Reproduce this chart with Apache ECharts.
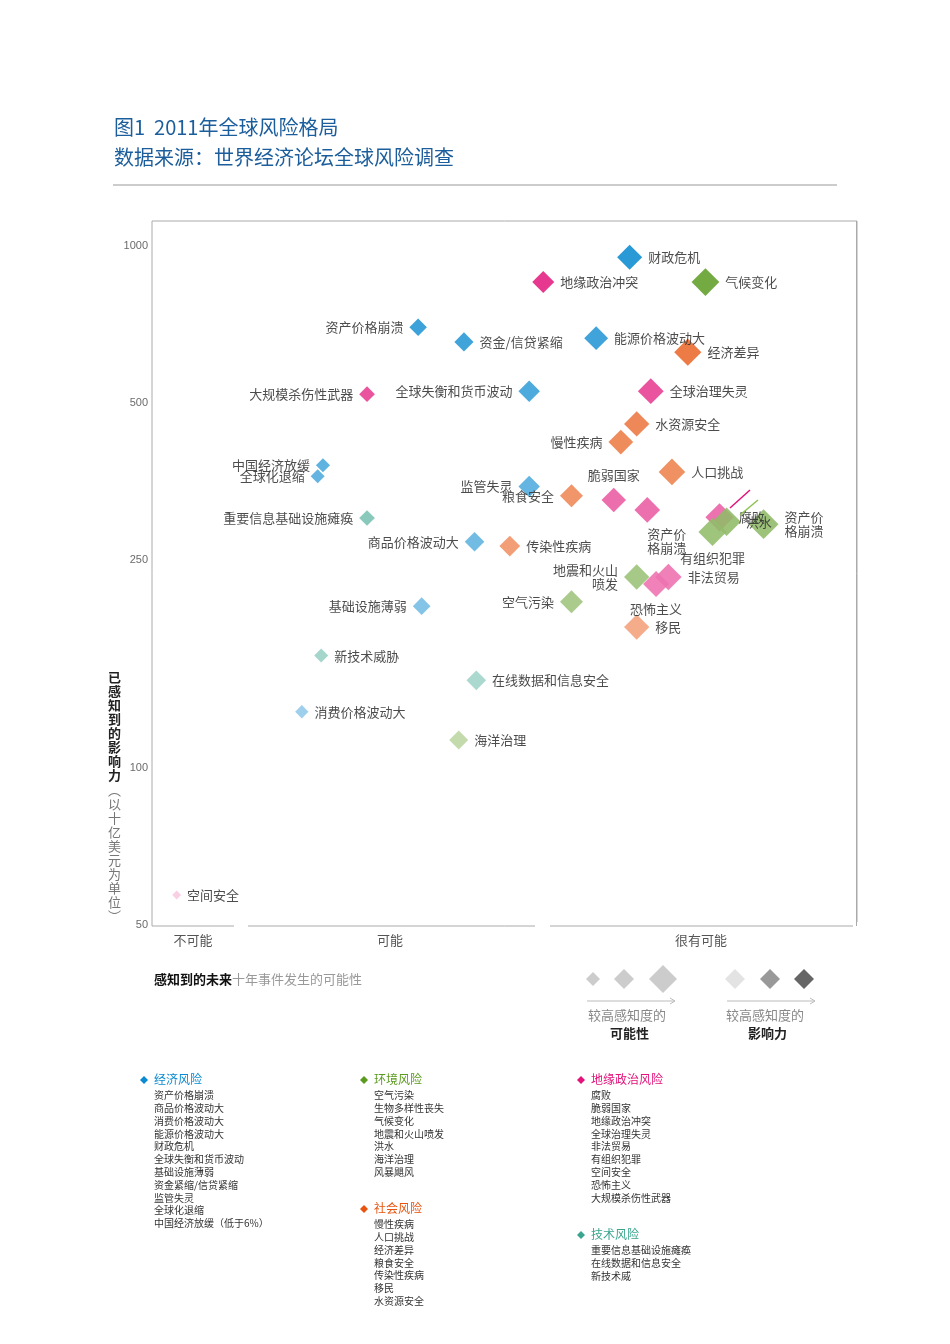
<!DOCTYPE html>
<html><head><meta charset="utf-8">
<script src="https://cdn.jsdelivr.net/npm/echarts@6/dist/echarts.min.js"></script>
<style>html,body{margin:0;background:#fff}#c{width:950px;height:1344px}</style>
</head><body><div id="c"></div>
<script>
const FONT='"Noto Sans CJK SC", sans-serif';
const names=['财政危机','资产价格崩溃','资金/信贷紧缩','能源价格波动大','全球失衡和货币波动','中国经济放缓','全球化退缩','监管失灵','商品价格波动大','基础设施薄弱','消费价格波动大',
'地缘政治冲突','大规模杀伤性武器','全球治理失灵','脆弱国家','资产价\n格崩溃','腐败','非法贸易','恐怖主义','空间安全',
'气候变化','资产价\n格崩溃','地震和火山\n喷发','空气污染','海洋治理','洪水','有组织犯罪',
'经济差异','水资源安全','慢性疾病','人口挑战','粮食安全','传染性疾病','移民',
'重要信息基础设施瘫痪','新技术威胁','在线数据和信息安全'];
const category=[0,0,0,0,0,0,0,0,0,0,0, 2,2,2,2,2,2,2,2,2, 1,1,1,1,1,1,1, 3,3,3,3,3,3,3, 4,4,4];
const likelihood=[3.71,2.51,2.77,3.52,3.14,1.97,1.94,3.14,2.83,2.53,1.85, 3.22,2.22,3.83,3.62,3.81,4.22,3.93,3.86,1.14, 4.14,4.47,3.75,3.38,2.74,4.26,4.18, 4.04,3.75,3.66,3.95,3.38,3.03,3.75, 2.22,1.96,2.84];
const impact=[952,699,655,666,527,380,362,346,271,204,128, 853,520,527,326,312,302,232,225,57, 853,293,232,208,113,296,283, 626,456,421,369,332,266,186, 301,164,147];
const labelPos=['r-14','l14','r10','r-14','l14','l-12','l10','l-14','l12','l10','r10',
'r12','l14','r11','t','b','cor','r10','ter','r',
'r12','r','l','l14','r12','flood','org',
'r15','r12','l14','r-14','l14','r','r12',
'l12','r10','r8'];
const yTicks=[50,100,250,500,1000];
const catNames=['经济风险','环境风险','地缘政治风险','社会风险','技术风险'];
const catColors=['#0a8ad0','#5a9a1e','#e2137a','#e8540e','#3aa58f'];
const catItems=[
['资产价格崩溃','商品价格波动大','消费价格波动大','能源价格波动大','财政危机','全球失衡和货币波动','基础设施薄弱','资金紧缩/信贷紧缩','监管失灵','全球化退缩','中国经济放缓（低于6%）'],
['空气污染','生物多样性丧失','气候变化','地震和火山喷发','洪水','海洋治理','风暴飓风'],
['腐败','脆弱国家','地缘政治冲突','全球治理失灵','非法贸易','有组织犯罪','空间安全','恐怖主义','大规模杀伤性武器'],
['慢性疾病','人口挑战','经济差异','粮食安全','传染性疾病','移民','水资源安全'],
['重要信息基础设施瘫痪','在线数据和信息安全','新技术威']];

function mix(hex,t){const n=parseInt(hex.slice(1),16);let r=n>>16,g=(n>>8)&255,b=n&255;
r=Math.round(r+(255-r)*t);g=Math.round(g+(255-g)*t);b=Math.round(b+(255-b)*t);return `rgb(${r},${g},${b})`;}
function lab(p){
 const base={show:true,color:'#333',fontSize:13,fontFamily:FONT,lineHeight:14,formatter:'{b}'};
 if(p==='t')return {...base,position:'top',distance:6};
 if(p==='b')return {...base,position:'bottom',distance:4,align:'left',offset:[-20,0]};
 if(p==='r')return {...base,position:'right',distance:6};
 if(p==='l')return {...base,position:'left',distance:6,align:'right'};
 if(p==='cor')return {...base,position:'right',offset:[20,-42]};
 if(p==='flood')return {...base,position:'right',offset:[16,-30]};
 if(p==='org')return {...base,position:'bottom',offset:[24,2]};
 if(p==='ter')return {...base,position:'bottom',offset:[34,-4]};
 const side=p[0]==='r'?'right':'left';const off=parseFloat(p.slice(1));
 return {...base,position:side,distance:6,offset:[0,off]};
}
const data=names.map((n,i)=>{
 const t=Math.max(0,Math.min(0.8,0.8*(3-Math.log10(impact[i]))/1.3));
 return {name:n,value:[likelihood[i],impact[i]],symbolSize:8+(likelihood[i]-1)*6.3,
  itemStyle:{color:mix(catColors[category[i]],t),opacity:0.88},label:lab(labelPos[i])};
});
const chart=echarts.init(document.getElementById('c'));
const gl=[];
const colX=[140,360,577,360,577],colY=[1073,1073,1073,1202,1228];
[0,1,2,3,4].forEach(k=>{
 gl.push({type:'polygon',shape:{points:[[colX[k]+4,colY[k]+3],[colX[k]+8,colY[k]+7],[colX[k]+4,colY[k]+11],[colX[k],colY[k]+7]]},style:{fill:catColors[k]}});
 gl.push({type:'text',x:colX[k]+14,y:colY[k],style:{text:catNames[k],fill:catColors[k],font:'12px '+FONT}});
 gl.push({type:'text',x:colX[k]+14,y:colY[k]+16,style:{text:catItems[k].join('\n'),fill:'#333',font:'10px '+FONT,lineHeight:12.8}});
});
function dia(cx,cy,r,c){return {type:'polygon',shape:{points:[[cx,cy-r],[cx+r,cy],[cx,cy+r],[cx-r,cy]]},style:{fill:c}};}
gl.push(dia(593,979,7,'#ccc'),dia(624,979,10,'#ccc'),dia(663,979,14,'#ccc'),dia(735,979,10,'#e3e3e3'),dia(770,979,10,'#999'),dia(804,979,10,'#666'));
[[587,675],[727,815]].forEach(([a,b])=>{gl.push({type:'line',shape:{x1:a,y1:1001,x2:b,y2:1001},style:{stroke:'#bbb',lineWidth:1}});
 gl.push({type:'polyline',shape:{points:[[b-5,998],[b,1001],[b-5,1004]]},style:{stroke:'#bbb',fill:null}});});
gl.push({type:'text',x:588,y:1009,style:{text:'较高感知度的',fill:'#888',font:'13px '+FONT}});
gl.push({type:'text',x:610,y:1027,style:{text:'可能性',fill:'#222',font:'bold 13px '+FONT}});
gl.push({type:'text',x:726,y:1009,style:{text:'较高感知度的',fill:'#888',font:'13px '+FONT}});
gl.push({type:'text',x:748,y:1027,style:{text:'影响力',fill:'#222',font:'bold 13px '+FONT}});
gl.push({type:'text',x:154,y:973,style:{text:'{b|感知到的未来}{g|十年事件发生的可能性}',rich:{b:{fill:'#111',font:'bold 13px '+FONT},g:{fill:'#999',font:'13px '+FONT}}}});
gl.push({type:'text',x:114,y:112,style:{text:'图1  2011年全球风险格局\n数据来源：世界经济论坛全球风险调查',fill:'#1c5e9c',font:'20px '+FONT,lineHeight:30}});
gl.push({type:'line',shape:{x1:113,y1:185,x2:837,y2:185},style:{stroke:'#999',lineWidth:1}});
gl.push({type:'rect',shape:{x:234,y:922,width:14,height:8},style:{fill:'#fff'},z:100});
gl.push({type:'rect',shape:{x:535,y:922,width:15,height:8},style:{fill:'#fff'},z:100});
gl.push({type:'rect',shape:{x:853,y:922,width:10,height:8},style:{fill:'#fff'},z:100});
gl.push({type:'line',shape:{x1:856.5,y1:221,x2:856.5,y2:926},style:{stroke:'#aaa'},z:101});
gl.push({type:'line',shape:{x1:730,y1:508,x2:750,y2:490},style:{stroke:'#e2137a',lineWidth:1.5},z:101});
gl.push({type:'line',shape:{x1:740,y1:515,x2:758,y2:500},style:{stroke:'#8cc152',lineWidth:1.5},z:101});
[['不可能',193],['可能',390],['很有可能',701]].forEach(([t,x])=>gl.push({type:'text',x:x,y:940,style:{text:t,fill:'#555',font:'13px '+FONT,align:'center',verticalAlign:'middle'}}));
gl.push({type:'text',x:108,y:670,style:{text:'已\n感\n知\n到\n的\n影\n响\n力',fill:'#222',font:'bold 13px '+FONT,lineHeight:14}});
gl.push({type:'text',x:108,y:783,style:{text:'︵\n以\n十\n亿\n美\n元\n为\n单\n位\n︶',fill:'#777',font:'13px '+FONT,lineHeight:14}});

chart.setOption({
 animation:false,
 grid:{left:152,top:221,width:705,height:705,show:true,borderColor:'#aaa',borderWidth:1,backgroundColor:'#fff'},
 xAxis:{type:'value',min:1,max:5,show:false},
 yAxis:{type:'log',min:49.7,max:1117,show:false},
 series:[
  {type:'scatter',symbol:'diamond',data:data,emphasis:{disabled:true},labelLayout:{hideOverlap:false}},
  {type:'scatter',symbolSize:0,data:yTicks.map(v=>[1,v]),label:{show:true,position:'left',distance:4,formatter:p=>p.value[1],fontSize:11,color:'#444',fontFamily:'Liberation Sans Narrow, Arial'},silent:true}
 ],
 graphic:gl
});
</script></body></html>
